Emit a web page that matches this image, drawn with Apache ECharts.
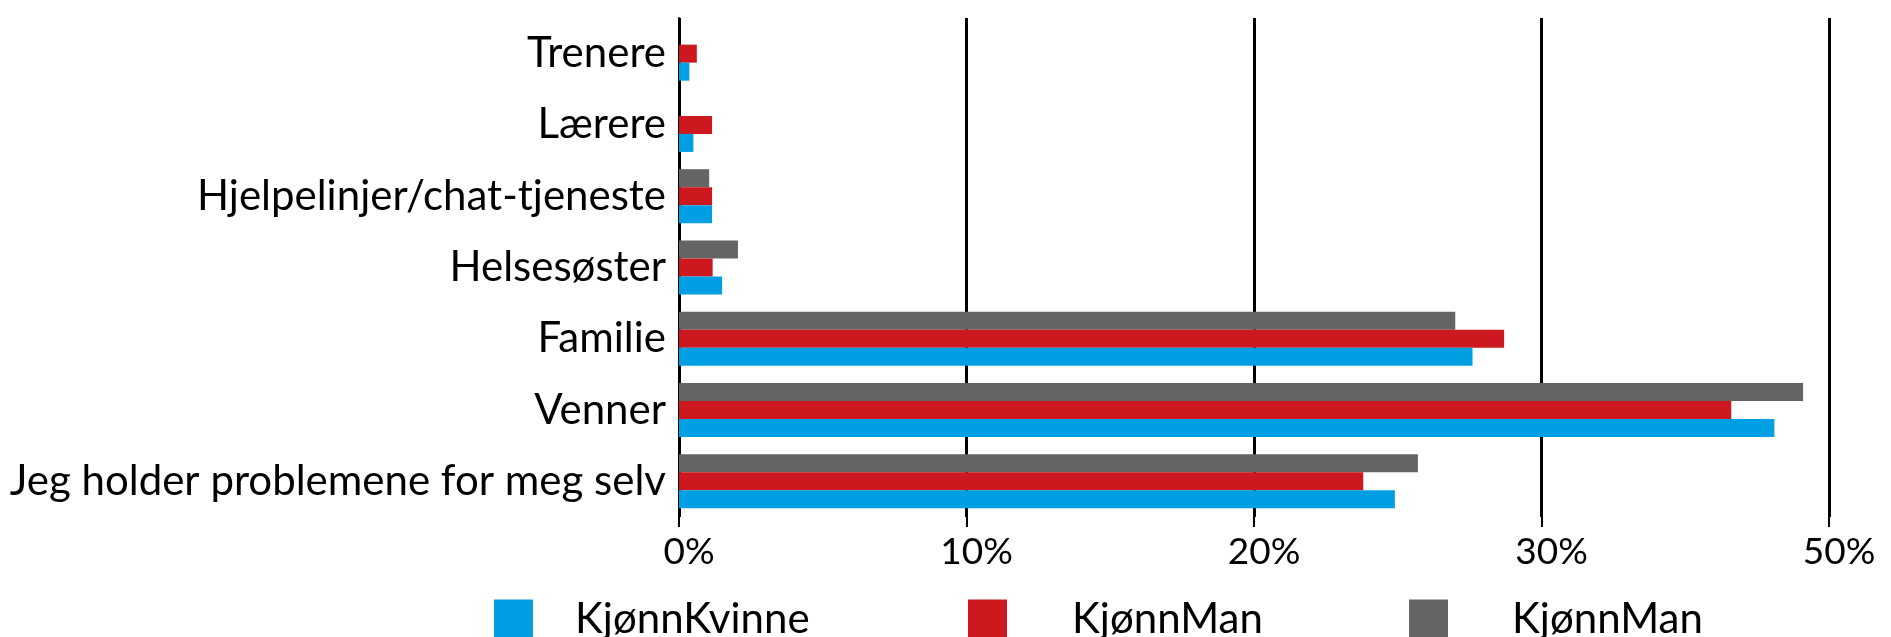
<!DOCTYPE html>
<html>
<head>
<meta charset="utf-8">
<script src="https://cdn.jsdelivr.net/npm/echarts@6/dist/echarts.min.js"></script>
<style>
html,body{margin:0;padding:0;background:#fff;}
#chart{width:1891px;height:637px;}
</style>
</head>
<body>
<div id="chart"></div>
<script>
// Categories listed bottom -> top (ECharts draws the first category at the bottom)
const categories = ['Jeg holder problemene for meg selv', 'Venner', 'Familie', 'Helsesøster', 'Hjelpelinjer/chat-tjeneste', 'Lærere', 'Trenere'];
const seriesKeys = ['KjønnKvinne', 'KjønnMan', 'KjønnMan #2'];
const legendLabels = ['KjønnKvinne', 'KjønnMan', 'KjønnMan'];
const kvinne = [24.9, 38.1, 27.6, 1.5, 1.15, 0.5, 0.36];
const man = [23.8, 36.6, 28.7, 1.17, 1.15, 1.15, 0.62];
const man2 = [25.7, 39.1, 27.0, 2.05, 1.05, 0, 0];
const tickLabels = ['0%', '10%', '20%', '30%', '50%'];
const colors = ['#009fe3', '#cc181e', '#646464'];

const FONT = 'Lato';
const chart = echarts.init(document.getElementById('chart'));
const values = [kvinne, man, man2];
const legendPos = [489, 963, 1404];
const legendPad = [37, 60, 59];
// draw order so that grey sits on top, blue at the bottom of each group
const drawOrder = [2, 1, 0];

chart.setOption({
  animation: false,
  textStyle: { fontFamily: FONT, color: '#000' },
  grid: { left: 679, top: 18, width: 1150, height: 499, containLabel: false, outerBoundsMode: 'none' },
  xAxis: {
    type: 'value',
    min: 0, max: 40, interval: 10,
    axisLine: { show: false },
    axisTick: { show: true, length: 10, lineStyle: { color: '#000', width: 2 } },
    splitLine: { show: true, lineStyle: { color: '#000', width: 3 } },
    axisLabel: {
      fontFamily: FONT, fontSize: 37, color: '#000', margin: 17,
      padding: [0, 0, 0, 20],
      formatter: v => tickLabels[Math.round(v / 10)]
    }
  },
  yAxis: {
    type: 'category',
    data: categories,
    axisLine: { show: true, lineStyle: { color: '#000', width: 2 } },
    axisTick: { show: false },
    axisLabel: { fontFamily: FONT, fontSize: 42, color: '#000', margin: 13 }
  },
  legend: seriesKeys.map((k, i) => ({
    data: [k],
    left: legendPos[i], top: 593,
    itemWidth: 39, itemHeight: 39, icon: 'rect',
    formatter: () => legendLabels[i],
    textStyle: { fontFamily: FONT, fontSize: 42, color: '#000', padding: [0, 0, 0, legendPad[i]] }
  })),
  series: drawOrder.map(i => ({
    name: seriesKeys[i],
    type: 'bar',
    data: values[i],
    barWidth: 18,
    barGap: '0%',
    itemStyle: { color: colors[i] }
  }))
});
</script>
</body>
</html>
